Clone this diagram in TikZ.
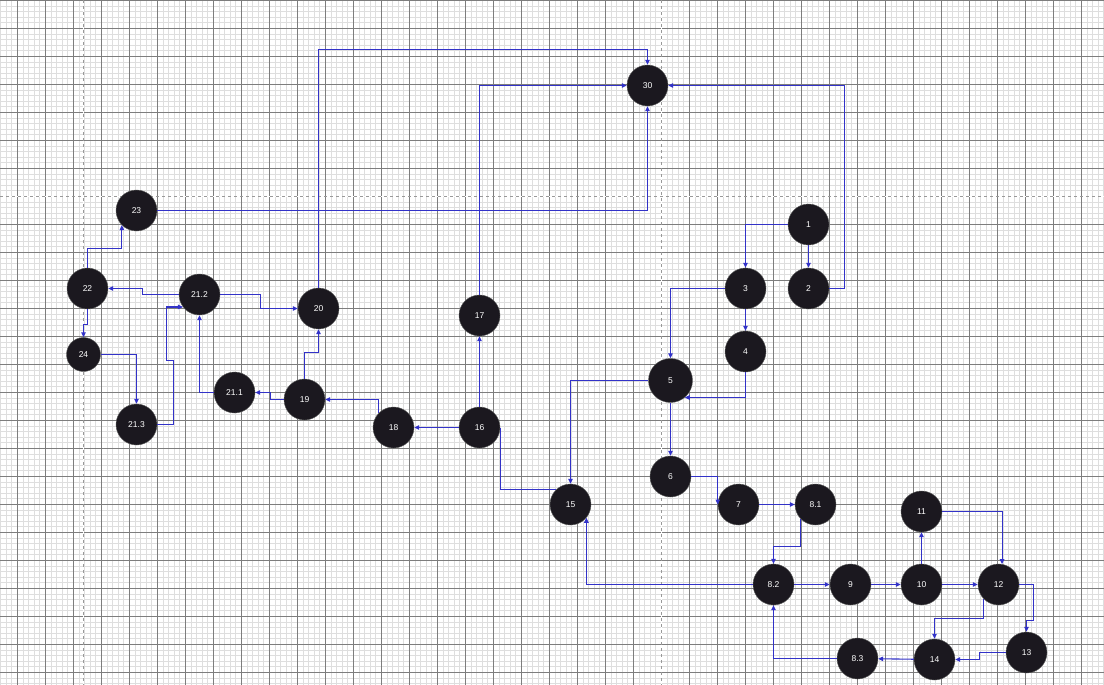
\documentclass[tikz,border=0pt]{standalone}
\usepackage{fontspec}
\setmainfont{Liberation Sans}
\usetikzlibrary{arrows.meta}
\definecolor{vertexfill}{RGB}{27,24,31}
\definecolor{flowblue}{RGB}{50,50,200}
\definecolor{gridmajor}{RGB}{125,125,125}
\definecolor{gridminor}{RGB}{222,222,222}
\begin{document}
\begin{tikzpicture}[x=1pt,y=-1pt,
  vertex/.style={circle,fill=vertexfill,draw=black!65,line width=0.4pt,
    minimum size=41pt,inner sep=0pt,text=white,font=\fontsize{8.5}{10}\selectfont},
  flow/.style={draw=flowblue,line width=1.1pt,-{Triangle[length=5pt,width=4.5pt]}},
  flowline/.style={draw=flowblue,line width=1.1pt}]%
% coordinates in px of the 1104x685 sheet, y downwards
\def\flowdraw{\draw[flow]}
\useasboundingbox (0,0) rectangle (1104,685);
\fill[white] (0,0) rectangle (1104,685);
% sheet grid
\foreach \k in {0,...,197}
  \draw[gridminor,line width=0.6pt] ({0.5+5.6*\k},0) -- ({0.5+5.6*\k},685);
\foreach \k in {0,...,122}
  \draw[gridminor,line width=0.6pt] (0,{0.3+5.6*\k}) -- (1104,{0.3+5.6*\k});
\foreach \k in {0,...,38}
  \draw[gridmajor,line width=0.7pt] ({17.3+28*\k},0) -- ({17.3+28*\k},685);
\foreach \k in {0,...,24}
  \draw[gridmajor,line width=0.7pt] (0,{0.3+28*\k}) -- (1104,{0.3+28*\k});
% page breaks
\draw[white,line width=1pt] (83,0) -- (83,685) (661.3,0) -- (661.3,685) (0,196.3) -- (1104,196.3);
\draw[black!40,line width=0.7pt,dashed] (83,0) -- (83,685) (661.3,0) -- (661.3,685)
  (0,196.3) -- (1104,196.3);
\begin{scope}[shift={(0.5,0.5)}]
% vertices
\node[vertex] (n30) at (647,85) {30};
\node[vertex] (n1) at (808,224) {1};
\node[vertex] (n2) at (808,288) {2};
\node[vertex] (n3) at (745,288) {3};
\node[vertex] (n4) at (745,351) {4};
\node[vertex,minimum size=44pt] (n5) at (670,380) {5};
\node[vertex] (n6) at (670,476) {6};
\node[vertex] (n7) at (738,504) {7};
\node[vertex] (n81) at (815,504) {8.1};
\node[vertex] (n82) at (773,584) {8.2};
\node[vertex] (n83) at (857,658) {8.3};
\node[vertex] (n9) at (850,584) {9};
\node[vertex] (n10) at (921,584) {10};
\node[vertex] (n11) at (921,511) {11};
\node[vertex] (n12) at (998,584) {12};
\node[vertex] (n13) at (1026,652) {13};
\node[vertex] (n14) at (934,659) {14};
\node[vertex] (n15) at (570,504) {15};
\node[vertex] (n16) at (479,427) {16};
\node[vertex] (n17) at (479,315) {17};
\node[vertex] (n18) at (393,427) {18};
\node[vertex] (n19) at (304,399) {19};
\node[vertex] (n20) at (318,308) {20};
\node[vertex] (n211) at (234,392) {21.1};
\node[vertex] (n212) at (199,294) {21.2};
\node[vertex] (n213) at (136,424) {21.3};
\node[vertex] (n22) at (87,288) {22};
\node[vertex] (n23) at (136,210) {23};
\node[vertex,minimum size=34pt] (n24) at (83,354) {24};
% flows
\flowdraw (n1.west) -| (n3.north);
\flowdraw (n1) -- (n2);
\flowdraw (n2.east) -- ++(15,0) |- (n30.east);
\flowdraw (n3.west) -| (n5.north);
\flowdraw (n3) -- (n4);
\flowdraw (n4.south) |- (n5.-50);
\flowdraw (n5.west) -| (n15.north);
\flowdraw (n5) -- (n6);
\flowdraw (n6.east) -| (n7.west);
\flowdraw (n7) -- (n81);
\flowdraw (n81.-135) -- ++(0,27) -| (n82.north);
\flowdraw (n82) -- (n9);
\flowdraw (n82.west) -| (n15.-40);
\flowdraw (n9) -- (n10);
\flowdraw (n10) -- (n11);
\flowdraw (n10) -- (n12);
\flowdraw (n11.east) -| (n12.80);
\flowdraw (n12.east) -- ++(14,0) -- ++(0,36) -| (n13.north);
\flowdraw (n12.-135) -- ++(0,19) -| (n14.north);
\flowdraw (n13.west) -- ++(-26,0) |- (n14.east);
\flowdraw (n14) -- (n83);
\flowdraw (n83.west) -| (n82.south);
\draw[flowline] (n16.east) |- (n15.135);
\flowdraw (n16) -- (n18);
\flowdraw (n16) -- (n17);
\flowdraw (n17.north) |- (n30.west);
\flowdraw (n18.135) |- (n19.east);
\flowdraw (n19.west) -- ++(-13,0) |- (n211.east);
\flowdraw (n19.north) -- ++(0,-26) -| (n20.south);
\flowdraw (n20.north) -- ++(0,-238) -| (n30.north);
\flowdraw (n211.west) -| (n212.south);
\flowdraw (n212.west) -- ++(-36,0) |- (n22.east);
\flowdraw (n212.east) -- ++(40,0) |- (n20.west);
\flowdraw (n213.east) -- ++(16,0) -- ++(0,-64) -- ++(-7,0) |- (n212.-143);
\flowdraw (n22.north) -- ++(0,-19) -| (n23.-135);
\flowdraw (n22.south) -- ++(0,15) -| (n24.north);
\flowdraw (n24.east) -| (n213.north);
\flowdraw (n23.east) -| (n30.south);
\end{scope}
\end{tikzpicture}
\end{document}
